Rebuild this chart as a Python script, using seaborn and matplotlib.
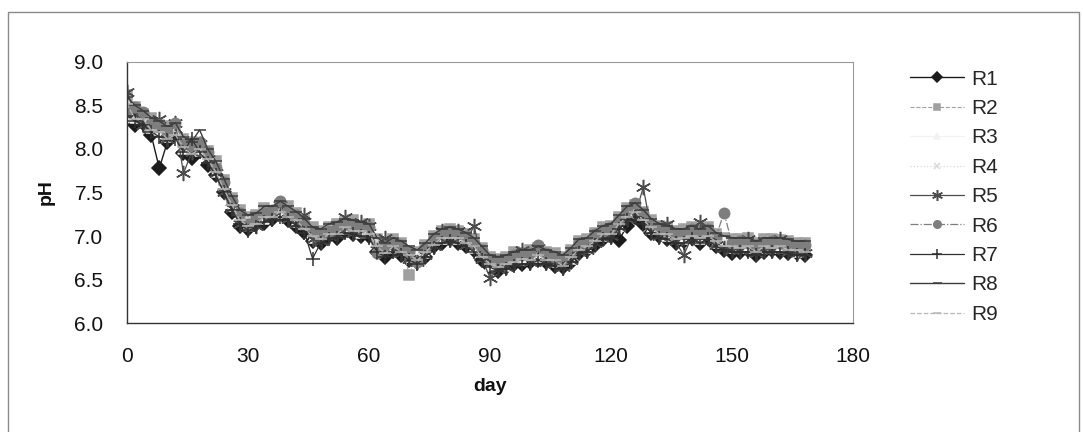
import numpy as np
import pandas as pd
import matplotlib
matplotlib.use("Agg")
import matplotlib.pyplot as plt
from matplotlib.patches import Rectangle
import seaborn as sns

# Sampling days (every second day)
days = list(range(0, 169, 2))

r1 = [8.45, 8.28, 8.30, 8.16, 7.78, 8.08, 8.18, 7.95, 7.90, 7.98,
      7.82, 7.70, 7.50, 7.28, 7.12, 7.08, 7.14, 7.15, 7.20, 7.26,
      7.18, 7.12, 7.05, 6.94, 6.92, 7.00, 6.98, 7.06, 7.02, 7.00,
      7.00, 6.82, 6.76, 6.84, 6.78, 6.72, 6.70, 6.76, 6.88, 6.92,
      6.96, 6.92, 6.88, 6.84, 6.72, 6.64, 6.60, 6.64, 6.68, 6.68,
      6.70, 6.72, 6.70, 6.66, 6.64, 6.70, 6.80, 6.84, 6.90, 6.96,
      7.00, 6.95, 7.12, 7.22, 7.14, 7.04, 7.00, 6.96, 6.92, 6.94,
      6.98, 6.92, 6.98, 6.88, 6.84, 6.80, 6.82, 6.84, 6.78, 6.82,
      6.84, 6.82, 6.80, 6.80, 6.78]
r2 = [8.62, 8.48, 8.40, 8.36, 8.28, 8.26, 8.22, 8.12, 8.08, 8.05,
      7.98, 7.86, 7.64, 7.44, 7.30, 7.22, 7.24, 7.32, 7.28, 7.36,
      7.34, 7.26, 7.18, 7.10, 7.06, 7.10, 7.14, 7.16, 7.18, 7.12,
      7.14, 6.96, 6.90, 6.96, 6.92, 6.55, 6.82, 6.90, 7.00, 7.06,
      7.08, 7.06, 7.02, 6.96, 6.86, 6.76, 6.74, 6.76, 6.82, 6.80,
      6.84, 6.86, 6.82, 6.80, 6.76, 6.84, 6.94, 6.96, 7.04, 7.10,
      7.12, 7.22, 7.32, 7.36, 7.28, 7.18, 7.12, 7.10, 7.06, 7.08,
      7.10, 7.06, 7.10, 7.02, 6.98, 6.96, 6.96, 6.98, 6.92, 6.96,
      6.96, 6.95, 6.94, 6.92, 6.92]
r3 = [8.50, 8.36, 8.38, 8.24, 8.22, 8.14, 8.22, 8.00, 8.02, 7.98,
      7.94, 7.74, 7.58, 7.34, 7.24, 7.12, 7.20, 7.20, 7.28, 7.26,
      7.28, 7.16, 7.14, 6.98, 7.02, 7.02, 7.08, 7.08, 7.12, 7.04,
      7.08, 6.86, 6.86, 6.86, 6.88, 6.76, 6.78, 6.80, 6.96, 6.96,
      7.04, 6.96, 6.98, 6.86, 6.82, 6.66, 6.70, 6.66, 6.76, 6.72,
      6.78, 6.76, 6.78, 6.70, 6.72, 6.74, 6.90, 6.86, 7.00, 7.00,
      7.08, 7.12, 7.28, 7.26, 7.24, 7.08, 7.08, 7.00, 7.02, 6.96,
      7.06, 6.96, 7.06, 6.92, 6.94, 6.86, 6.92, 6.86, 6.88, 6.86,
      6.92, 6.86, 6.90, 6.82, 6.88]
r4 = [8.56, 8.44, 8.34, 8.32, 8.22, 8.22, 8.20, 8.10, 8.00, 8.06,
      7.92, 7.82, 7.58, 7.42, 7.22, 7.20, 7.18, 7.28, 7.26, 7.34,
      7.26, 7.24, 7.12, 7.06, 7.00, 7.09, 7.06, 7.16, 7.10, 7.12,
      7.06, 6.94, 6.84, 6.94, 6.86, 6.84, 6.76, 6.88, 6.94, 7.04,
      7.02, 7.04, 6.96, 6.94, 6.80, 6.74, 6.68, 6.74, 6.74, 6.80,
      6.76, 6.84, 6.76, 6.78, 6.70, 6.82, 6.88, 6.94, 6.98, 7.08,
      7.06, 7.20, 7.26, 7.34, 7.22, 7.16, 7.06, 7.08, 7.00, 7.04,
      7.04, 7.04, 7.04, 7.00, 6.92, 6.94, 6.90, 6.94, 6.86, 6.94,
      6.90, 6.94, 6.88, 6.90, 6.86]
r5 = [8.66, 8.40, 8.28, 8.26, 8.34, 8.12, 8.30, 7.72, 7.96, 8.06,
      7.88, 7.72, 7.50, 7.32, 7.14, 7.10, 7.12, 7.24, 7.22, 7.36,
      7.20, 7.14, 7.24, 6.96, 6.94, 7.00, 7.02, 7.22, 7.04, 7.16,
      7.12, 6.84, 6.98, 6.84, 6.80, 6.74, 6.70, 6.78, 6.88, 7.06,
      6.96, 7.06, 6.90, 7.12, 6.74, 6.52, 6.62, 6.64, 6.70, 6.84,
      6.70, 6.86, 6.70, 6.68, 6.64, 6.72, 6.82, 6.84, 6.92, 6.98,
      7.00, 7.10, 7.20, 7.24, 7.56, 7.06, 7.00, 7.14, 6.94, 6.78,
      6.98, 7.16, 6.98, 6.90, 6.86, 6.84, 6.84, 6.96, 6.80, 6.84,
      6.84, 6.96, 6.82, 6.80, 6.80]
r6 = [8.45, 8.48, 8.42, 8.30, 8.28, 8.20, 8.30, 8.06, 8.04, 8.08,
      7.96, 7.78, 7.62, 7.40, 7.26, 7.14, 7.22, 7.26, 7.30, 7.40,
      7.28, 7.24, 7.14, 7.06, 7.02, 7.06, 7.10, 7.14, 7.14, 7.10,
      7.10, 6.80, 6.88, 6.92, 6.90, 6.82, 6.70, 6.86, 6.98, 7.02,
      7.06, 7.02, 7.00, 6.92, 6.84, 6.72, 6.72, 6.72, 6.78, 6.78,
      6.80, 6.90, 6.80, 6.76, 6.74, 6.80, 6.92, 6.92, 7.02, 7.06,
      7.10, 7.18, 7.30, 7.38, 7.26, 7.14, 7.10, 7.06, 7.04, 7.02,
      7.08, 7.02, 7.08, 6.98, 7.27, 6.92, 6.94, 6.92, 6.90, 6.92,
      6.94, 6.92, 6.92, 6.88, 6.90]
r7 = [8.38, 8.32, 8.28, 8.20, 8.14, 8.10, 8.12, 7.96, 8.12, 7.96,
      7.84, 7.70, 7.50, 7.30, 7.14, 7.06, 7.10, 7.16, 7.18, 7.22,
      7.18, 7.12, 7.04, 6.74, 6.92, 6.96, 6.98, 7.04, 7.02, 7.00,
      6.98, 6.82, 6.76, 6.82, 6.78, 6.72, 6.68, 6.76, 6.86, 6.92,
      6.94, 6.92, 6.88, 6.82, 6.72, 6.64, 6.60, 6.62, 6.66, 6.68,
      6.68, 6.72, 6.68, 6.66, 6.62, 6.70, 6.80, 6.82, 6.90, 6.96,
      6.98, 7.08, 7.18, 7.22, 7.14, 7.04, 6.98, 6.96, 6.92, 6.92,
      6.96, 6.92, 6.96, 6.88, 6.84, 6.82, 6.82, 6.82, 6.78, 6.82,
      6.82, 6.82, 6.80, 6.78, 6.78]
r8 = [8.60, 8.50, 8.44, 8.36, 8.32, 8.26, 8.30, 8.14, 8.08, 8.22,
      8.00, 7.86, 7.66, 7.46, 7.30, 7.24, 7.26, 7.34, 7.34, 7.40,
      7.34, 7.28, 7.20, 7.10, 7.08, 7.14, 7.16, 7.20, 7.18, 7.16,
      7.14, 6.98, 6.92, 6.98, 6.94, 6.88, 6.84, 6.92, 7.02, 7.08,
      7.10, 7.08, 7.04, 6.98, 6.88, 6.78, 6.76, 6.78, 6.82, 6.84,
      6.84, 6.88, 6.84, 6.82, 6.78, 6.86, 6.96, 6.98, 7.06, 7.12,
      7.14, 7.24, 7.34, 7.38, 7.30, 7.20, 7.14, 7.12, 7.08, 7.08,
      7.12, 7.08, 7.12, 7.04, 7.00, 6.98, 6.98, 6.98, 6.94, 6.98,
      6.98, 6.98, 6.96, 6.94, 6.94]
r9 = [8.52, 8.34, 8.34, 8.22, 8.20, 8.12, 8.16, 8.02, 7.94, 8.00,
      7.88, 7.74, 7.54, 7.36, 7.18, 7.12, 7.14, 7.22, 7.22, 7.28,
      7.22, 7.18, 7.08, 7.00, 6.96, 7.02, 7.02, 7.10, 7.06, 7.06,
      7.02, 6.88, 6.80, 6.88, 6.82, 6.78, 6.72, 6.82, 6.90, 6.98,
      6.98, 6.98, 6.92, 6.88, 6.76, 6.68, 6.64, 6.68, 6.70, 6.74,
      6.72, 6.78, 6.72, 6.72, 6.66, 6.76, 6.84, 6.88, 6.94, 7.02,
      7.02, 7.14, 7.22, 7.28, 7.18, 7.10, 7.02, 7.02, 6.96, 6.98,
      7.00, 6.98, 7.00, 6.94, 6.88, 6.88, 6.86, 6.88, 6.82, 6.88,
      6.86, 6.88, 6.84, 6.84, 6.82]

series_names = ["R1", "R2", "R3", "R4", "R5", "R6", "R7", "R8", "R9"]
series_values = [r1, r2, r3, r4, r5, r6, r7, r8, r9]

x_ticks = [0, 30, 60, 90, 120, 150, 180]
y_ticks = [6.0, 6.5, 7.0, 7.5, 8.0, 8.5, 9.0]

# Grayscale styling per reactor: (colour, marker, marker size, line style, line width)
styles = {
    "R1": ("#1c1c1c", "D", 7.0, "-", 1.0),
    "R2": ("#a0a0a0", "s", 6.5, "--", 0.8),
    "R3": ("#f2f2f2", "^", 6.5, "-", 0.9),
    "R4": ("#d8d8d8", "x", 6.0, ":", 0.9),
    "R5": ("#4c4c4c", (6, 2, 0), 11.0, "-", 0.9),
    "R6": ("#7e7e7e", "o", 7.5, "-.", 0.9),
    "R7": ("#303030", "+", 10.0, "-", 0.9),
    "R8": ("#3c3c3c", "_", 9.0, "-", 1.0),
    "R9": ("#b6b6b6", "_", 8.0, "--", 0.9),
}

df = pd.DataFrame({"day": days})
for name, vals in zip(series_names, series_values):
    df[name] = vals
long_df = df.melt(id_vars="day", var_name="reactor", value_name="pH")

sns.set_style("white")
plt.rcParams["font.family"] = ["Liberation Sans", "DejaVu Sans"]

fig = plt.figure(figsize=(10.83, 4.32), dpi=100)
ax = fig.add_axes([0.1173, 0.2523, 0.6703, 0.6042])

for name in series_names:
    color, marker, ms, ls, lw = styles[name]
    sub = long_df[long_df["reactor"] == name]
    sns.lineplot(data=sub, x="day", y="pH", ax=ax, color=color, marker=marker,
                 markersize=ms, markeredgecolor=color, markerfacecolor=color,
                 markeredgewidth=1.1, linestyle=ls, linewidth=lw, label=name,
                 estimator=None, sort=False)

ax.set_xlim(0, 180)
ax.set_ylim(6.0, 9.0)
ax.set_xticks(x_ticks)
ax.set_yticks(y_ticks)
ax.set_xticklabels([str(t) for t in x_ticks])
ax.set_yticklabels([f"{t:.1f}" for t in y_ticks])
ax.tick_params(axis="both", direction="out", length=4, width=0.8, color="#333333",
               labelsize=15, labelcolor="#111111")
ax.tick_params(axis="x", pad=13)
ax.tick_params(axis="y", pad=13)

for side in ["left", "bottom"]:
    ax.spines[side].set_color("#333333")
    ax.spines[side].set_linewidth(1.0)
for side in ["top", "right"]:
    ax.spines[side].set_color("#9a9a9a")
    ax.spines[side].set_linewidth(0.8)

ax.set_xlabel("day", fontsize=14, fontweight="bold", labelpad=9, color="#111111")
ax.set_ylabel("pH", fontsize=14, fontweight="bold", labelpad=14, color="#111111")

handles, labels = ax.get_legend_handles_labels()
ax.legend(handles, labels, loc="upper left", bbox_to_anchor=(0.8403, 0.839),
          bbox_transform=fig.transFigure, frameon=False, fontsize=15,
          handlelength=2.6, handletextpad=0.33, labelspacing=0.5, borderpad=0,
          borderaxespad=0, markerscale=0.72)

# Outer chart frame
fig.patches.append(Rectangle((8 / 1083, -0.02), (1079 - 8) / 1083, (432 - 12) / 432 + 0.02,
                             transform=fig.transFigure, fill=False,
                             edgecolor="#8a8a8a", linewidth=1.0))

fig.savefig("out.png", dpi=100, facecolor="white")
